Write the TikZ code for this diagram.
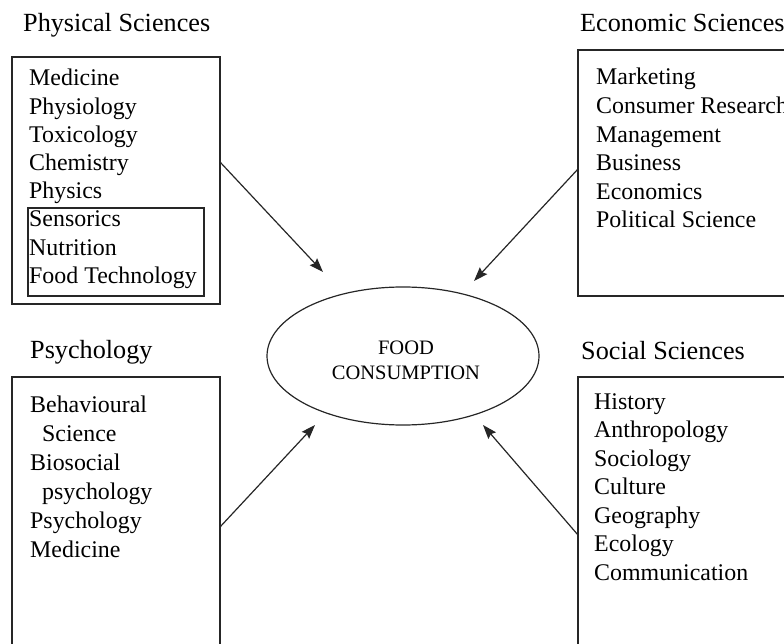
\documentclass[tikz,border=0pt]{standalone}
\usepackage{fontspec}
\setmainfont{Liberation Serif}
\usetikzlibrary{arrows.meta,shapes.geometric}
\begin{document}
\begin{tikzpicture}[x=1pt,y=-1pt,
  frame/.style={draw=black!85,line width=1.2pt,rectangle,inner sep=0pt,outer sep=0pt,anchor=north west},
  title/.style={anchor=base west,inner sep=0pt,font=\fontsize{26.2}{30}\selectfont},
  item/.style={anchor=base west,inner sep=0pt,font=\fontsize{23.9}{28}\selectfont},
  link/.style={draw=black!85,line width=1.2pt,-{Stealth[length=14pt,width=10pt,inset=2pt]}}]
\useasboundingbox (0,0) rectangle (784,644);

% boxes
\node[frame,minimum width=208pt,minimum height=247pt] (phys) at (12,57) {};
\node[frame,minimum width=176pt,minimum height=88pt] (physin) at (28,208) {};
\node[frame,minimum width=300pt,minimum height=246pt] (econ) at (578,50) {};
\node[frame,minimum width=208pt,minimum height=300pt] (psy) at (12,377) {};
\node[frame,minimum width=300pt,minimum height=300pt] (soc) at (578,377) {};

% titles
\node[title] (tphys) at (23,32) {Physical Sciences};
\node[title] (tecon) at (580,32) {Economic Sciences};
\node[title] (tpsy) at (30,358) {Psychology};
\node[title] (tsoc) at (581,359) {Social Sciences};

% items
\foreach \t [count=\i from 0] in {Medicine,Physiology,Toxicology,Chemistry,Physics,Sensorics,Nutrition,Food Technology}
  \node[item] (ph\i) at (29,{86+28.2*\i}) {\t};
\foreach \t [count=\i from 0] in {Marketing,Consumer Research,Management,Business,Economics,Political Science}
  \node[item] (ec\i) at (596,{85+28.6*\i}) {\t};
\foreach \t/\x [count=\i from 0] in {Behavioural/30,Science/42,Biosocial/30,psychology/42,Psychology/30,Medicine/30}
  \node[item] (ps\i) at (\x,{412+29*\i}) {\t};
\foreach \t [count=\i from 0] in {History,Anthropology,Sociology,Culture,Geography,Ecology,Communication}
  \node[item] (so\i) at (594,{409+28.5*\i}) {\t};

% centre
\node[draw=black!85,line width=1.2pt,ellipse,minimum width=272pt,minimum height=138pt,inner sep=0pt] (food) at (403,356) {};
\node[align=center,inner sep=0pt,font=\fontsize{20.5}{25}\selectfont] (foodtext) at (406,360) {FOOD\\CONSUMPTION};

% connectors
\coordinate (s1) at (220,162); \coordinate (e1) at (323,272);
\coordinate (s2) at (578,169); \coordinate (e2) at (474,281);
\coordinate (s3) at (220,527); \coordinate (e3) at (315,425);
\coordinate (s4) at (578,535); \coordinate (e4) at (483,425);
\draw[link] (s1) -- (e1);
\draw[link] (s2) -- (e2);
\draw[link] (s3) -- (e3);
\draw[link] (s4) -- (e4);
\end{tikzpicture}
\end{document}
